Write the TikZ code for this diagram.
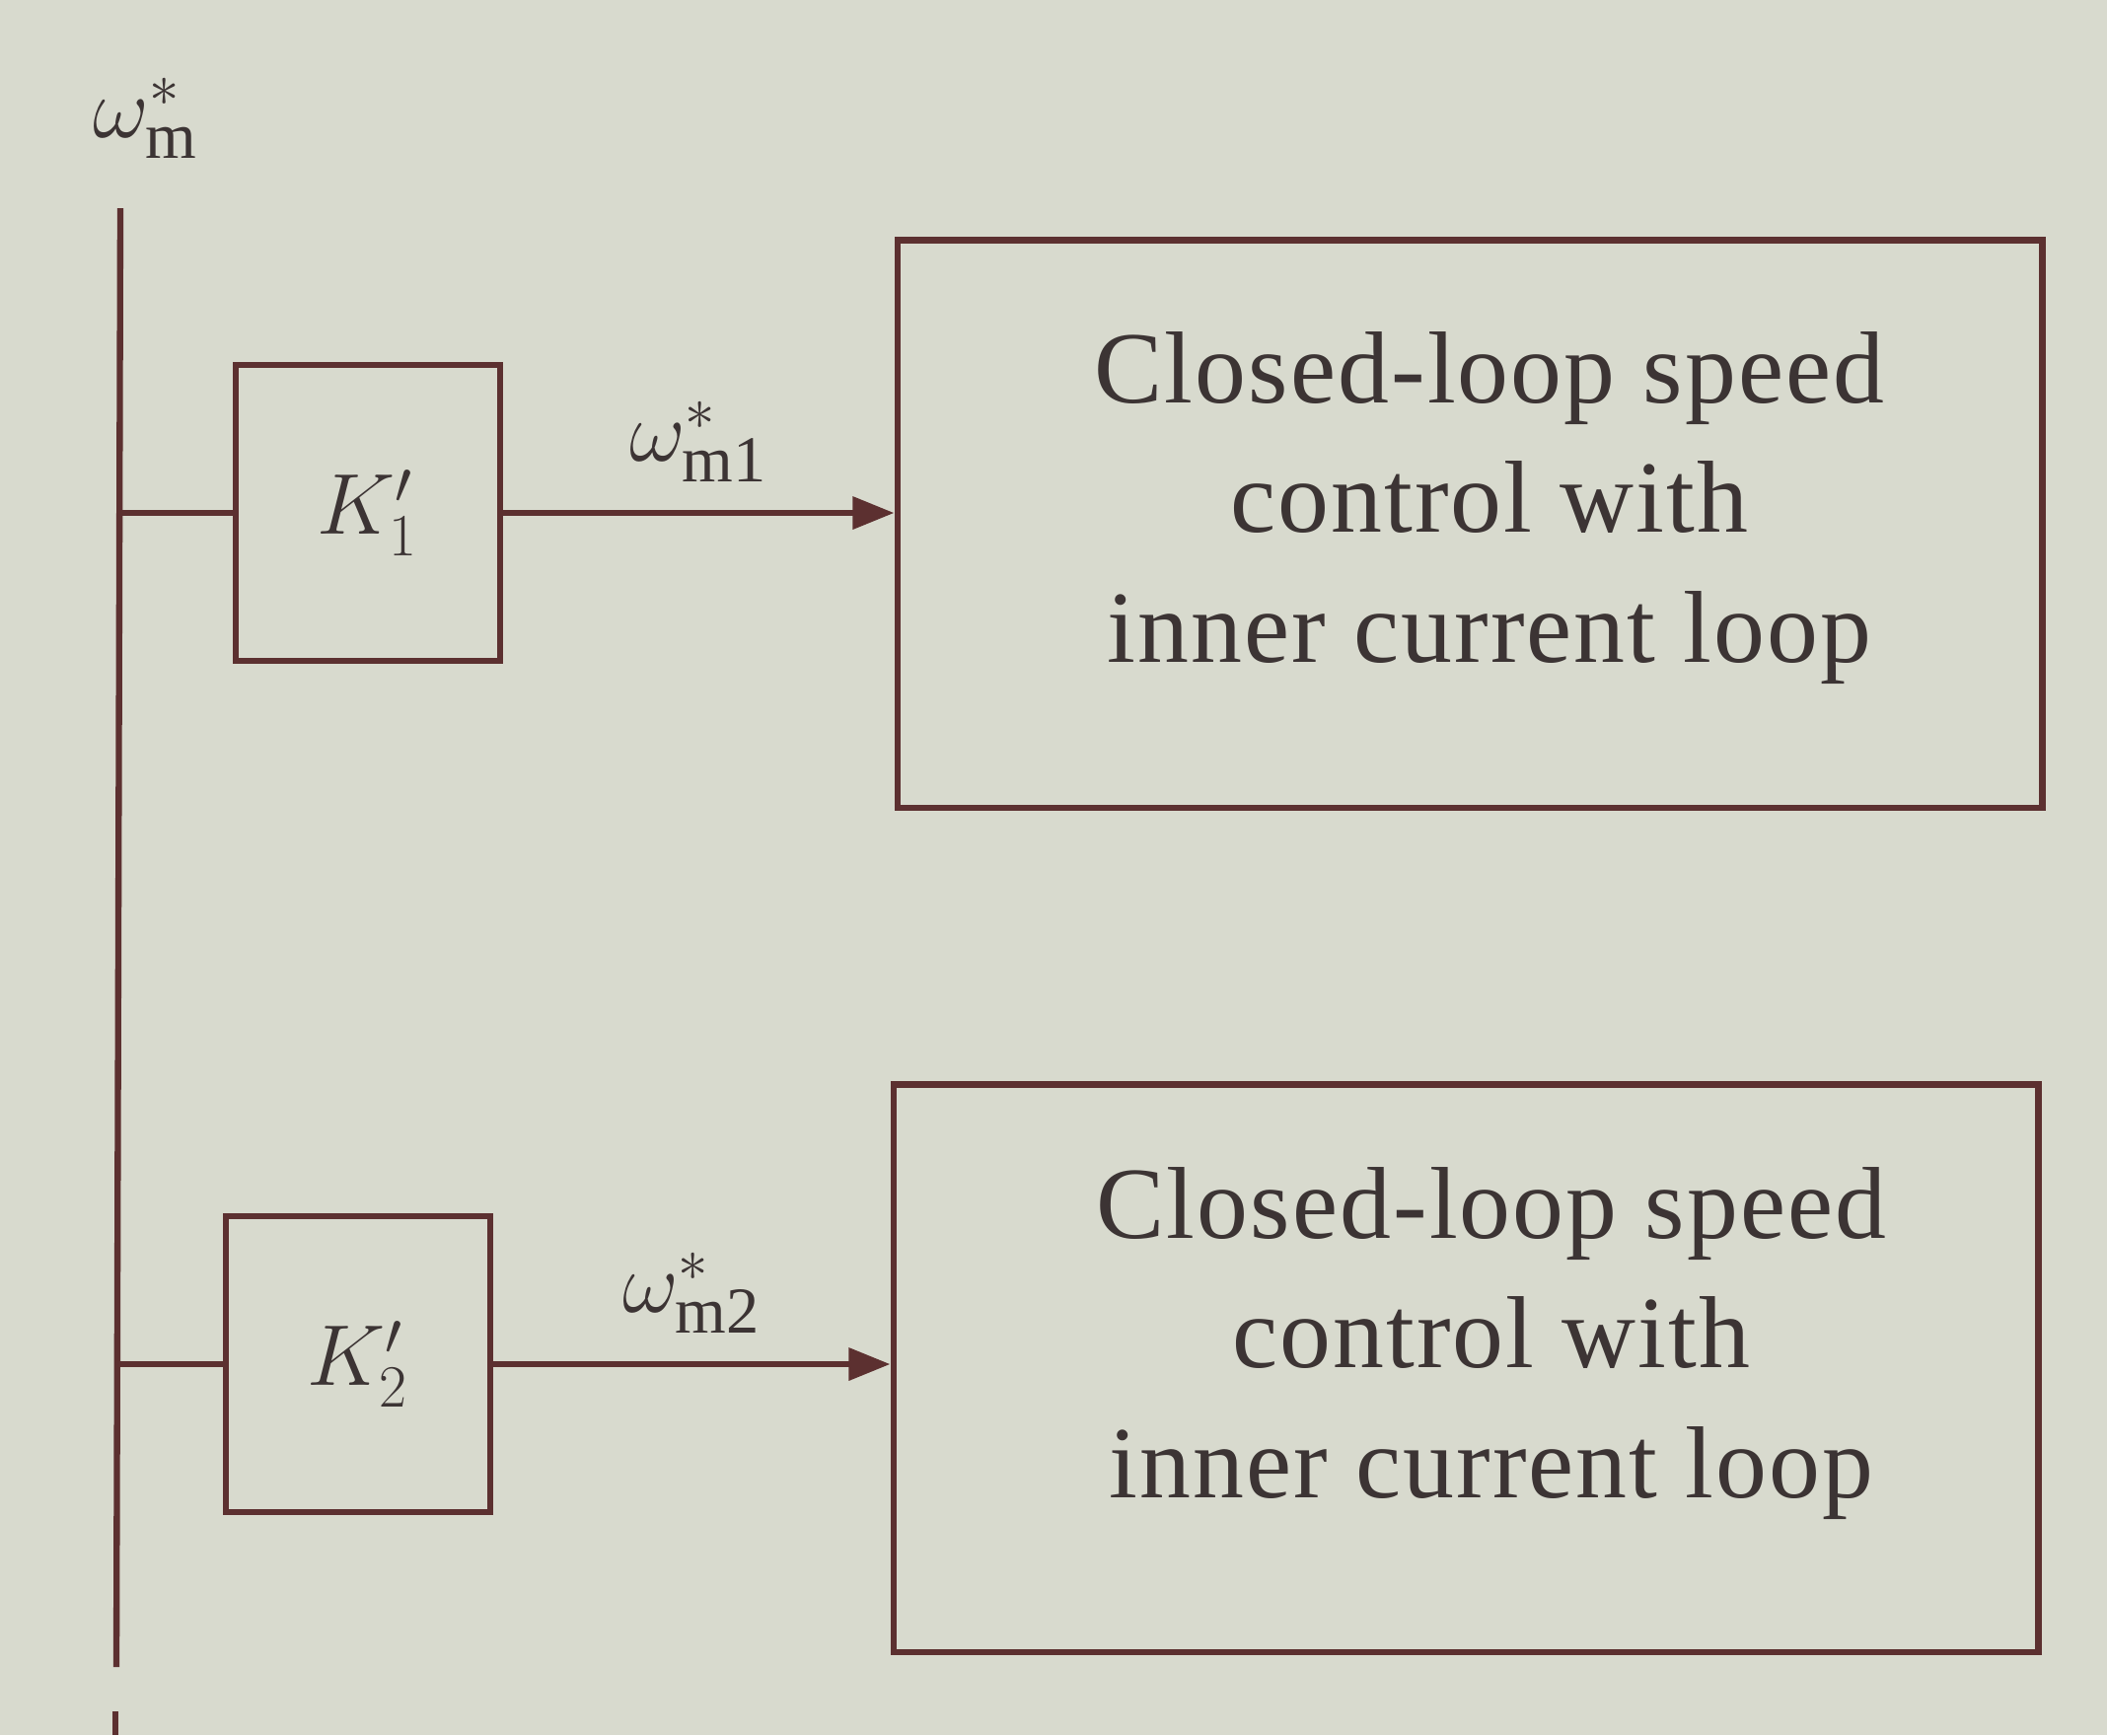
\documentclass[tikz,border=0pt]{standalone}
\usepackage{fontspec}
\setmainfont{Liberation Serif}[LetterSpace=2]
\usetikzlibrary{arrows.meta}
\definecolor{paper}{RGB}{216,218,206}
\definecolor{ink}{RGB}{92,48,48}
\definecolor{txt}{RGB}{60,52,52}
\begin{document}
\begin{tikzpicture}[x=0.01cm,y=-0.01cm,
  line/.style={draw=ink,line width=1.8pt},
  gainbox/.style={line, minimum width=2.68cm, minimum height=3.0cm, inner sep=0pt},
  loopbox/.style={line, minimum width=11.6cm, minimum height=5.75cm, inner sep=0pt},
  looptext/.style={text=txt, align=center, font=\fontsize{29.5}{37.5}\selectfont},
  mlab/.style={text=txt, font=\fontsize{27}{30}\selectfont, inner sep=0pt},
  sig/.style={line, -{Triangle[length=0.42cm,width=0.32cm]}}]
\fill[paper] (0,0) rectangle (2136,1759);
\useasboundingbox (0,0) rectangle (2136,1759);

% input label and bus
\node[mlab] (wm) at (148,120) {$\omega^{*}_{\mathrm{m}}$};
\coordinate (busT) at (122,211);
\coordinate (busB) at (118,1690);
\coordinate (busB2) at (117,1735);
\coordinate (busE) at (117,1759);
\draw[line] (busT) -- (busB);
\draw[line] (busB2) -- (busE);

% branch 1
\node[gainbox] (k1) at (373,520) {};
\node[mlab] at (k1.center) {$K_1'$};
\node[loopbox] (c1) at (1490,531) {};
\node[looptext] at (1510,515) {Closed-loop speed\\control with\\inner current loop};
\coordinate (t1) at (120,520);
\draw[line] (t1) -- (k1.west);
\draw[sig] (k1.east) -- (c1.west |- k1.east) node[midway, above=0.28cm, mlab] {$\omega^{*}_{\mathrm{m1}}$};

% branch 2
\node[gainbox] (k2) at (363,1383) {};
\node[mlab] at (k2.center) {$K_2'$};
\node[loopbox] (c2) at (1486,1387) {};
\node[looptext] at (1512,1362) {Closed-loop speed\\control with\\inner current loop};
\coordinate (t2) at (119,1383);
\draw[line] (t2) -- (k2.west);
\draw[sig] (k2.east) -- (c2.west |- k2.east) node[midway, above=0.28cm, mlab] {$\omega^{*}_{\mathrm{m2}}$};
\end{tikzpicture}
\end{document}
